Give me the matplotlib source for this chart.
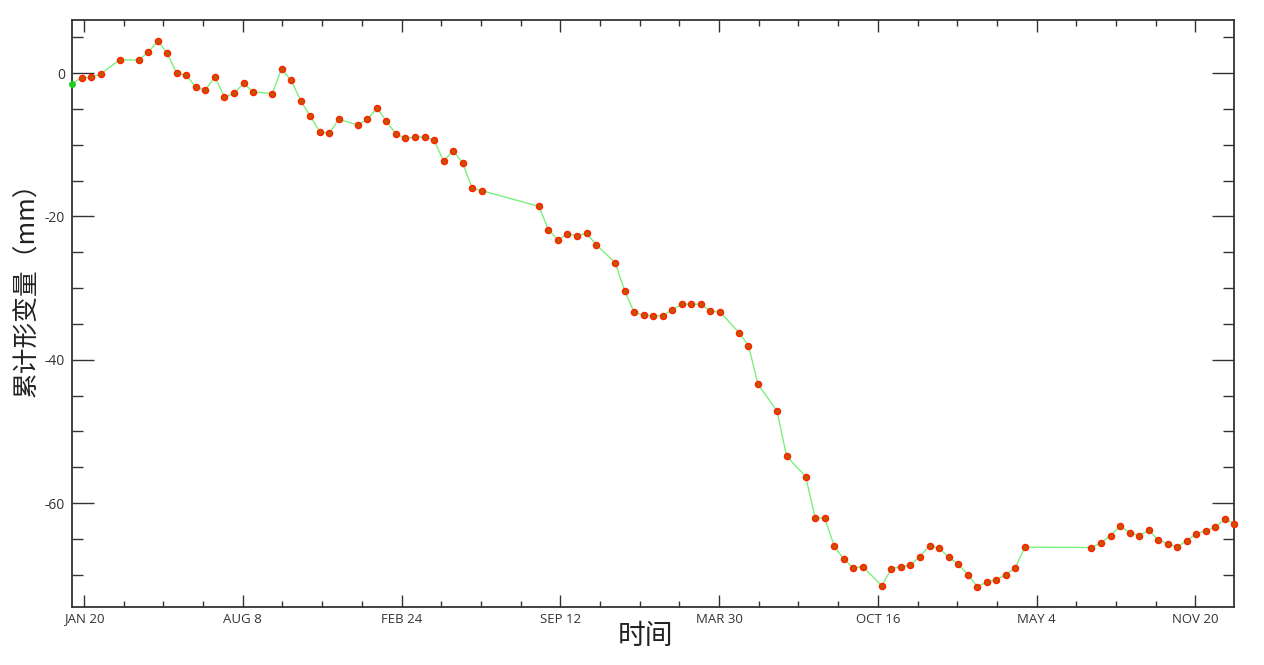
import matplotlib
matplotlib.use("Agg")
import matplotlib.pyplot as plt
import matplotlib.dates as mdates
from matplotlib.ticker import MultipleLocator, FixedLocator
import numpy as np

# 采集日期：相对 2018-01-20 的天数（Sentinel-1，12 天重访）
start_date = np.datetime64("2018-01-20")
days = [-15, -3, 9, 21, 45, 69, 81, 93, 105, 117, 129, 141, 153, 165, 177, 189,
        201, 213, 237, 249, 261, 273, 285, 297, 309, 321, 345, 357, 369, 381,
        393, 405, 417, 429, 441, 453, 465, 477, 489, 501, 573, 585, 597, 609,
        621, 633, 645, 669, 681, 693, 705, 717, 729, 741, 753, 765, 777, 789,
        801, 825, 837, 849, 873, 885, 909, 921, 933, 945, 957, 969, 981, 1005,
        1017, 1029, 1041, 1053, 1065, 1077, 1089, 1101, 1113, 1125, 1137, 1149,
        1161, 1173, 1185, 1269, 1281, 1293, 1305, 1317, 1329, 1341, 1353, 1365,
        1377, 1389, 1401, 1413, 1425, 1437, 1449]

# 累计形变量 (mm)
deform = [-1.5, -0.65, -0.6, -0.14, 1.86, 1.8, 2.9, 4.46, 2.74, -0.05, -0.28,
          -2.0, -2.37, -0.51, -3.39, -2.84, -1.44, -2.6, -2.88, 0.6, -1.02,
          -3.86, -6.0, -8.18, -8.41, -6.46, -7.25, -6.46, -4.88, -6.74, -8.51,
          -9.11, -8.93, -8.93, -9.34, -12.32, -10.83, -12.55, -16.08, -16.41,
          -18.6, -21.85, -23.29, -22.45, -22.69, -22.36, -23.94, -26.45, -30.36,
          -33.38, -33.79, -33.85, -33.85, -33.05, -32.22, -32.26, -32.26,
          -33.24, -33.29, -36.22, -38.03, -43.42, -47.18, -53.46, -56.3,
          -62.06, -62.1, -66.0, -67.83, -69.04, -68.86, -71.55, -69.13, -68.86,
          -68.66, -67.46, -65.93, -66.29, -67.55, -68.48, -69.97, -71.64,
          -71.03, -70.71, -69.97, -69.04, -66.15, -66.2, -65.55, -64.53,
          -63.22, -64.11, -64.57, -63.78, -65.13, -65.65, -66.15, -65.23,
          -64.3, -63.83, -63.36, -62.25, -62.86]

tick_dates = ["2018-01-20", "2018-08-08", "2019-02-24", "2019-09-12",
              "2020-03-30", "2020-10-16", "2021-05-04", "2021-11-20"]
tick_labels = ["JAN 20", "AUG 8", "FEB 24", "SEP 12", "MAR 30", "OCT 16",
               "MAY 4", "NOV 20"]
y_ticks = [0, -20, -40, -60]

cjk = ["Noto Sans CJK SC", "DejaVu Sans"]
tick_font = ["Open Sans", "DejaVu Sans"]

dates = start_date + np.array(days)

fig = plt.figure(figsize=(12.64, 6.65), dpi=100)
ax = fig.add_axes([72 / 1264, 1 - 607 / 665, (1234 - 72) / 1264, (607 - 20) / 665])

ax.plot(dates, deform, color="#7cf07c", lw=1.0, zorder=2)
ax.plot(dates[1:], deform[1:], "o", ms=4.3, mfc="#c05800", mec="#ff2200",
        mew=1.1, zorder=3, clip_on=False)
ax.plot(dates[:1], deform[:1], "o", ms=4.0, color="#22cc22", zorder=3,
        clip_on=False)

ax.set_xlim(start_date - np.timedelta64(15, "D"),
            start_date + np.timedelta64(1448, "D") + np.timedelta64(12, "h"))
ax.set_ylim(-74.5, 7.4)

major = [mdates.date2num(np.datetime64(d)) for d in tick_dates]
minor = [mdates.date2num(start_date + np.timedelta64(k, "D"))
         for k in range(-50, 1500, 50)]
ax.xaxis.set_major_locator(FixedLocator(major))
ax.xaxis.set_minor_locator(FixedLocator(minor))
ax.set_xticklabels(tick_labels, family=tick_font, fontsize=9.5, color="#333333")

ax.yaxis.set_major_locator(FixedLocator(y_ticks))
ax.yaxis.set_minor_locator(MultipleLocator(5))
ax.set_yticklabels([str(v) for v in y_ticks], family=tick_font, fontsize=10,
                   color="#333333")

for side in ax.spines.values():
    side.set_color("#333333")
    side.set_linewidth(1.3)

ax.tick_params(axis="x", which="major", direction="in", length=8.6, width=1.0,
               top=True, bottom=True, color="#333333", pad=4)
ax.tick_params(axis="x", which="minor", direction="in", length=4.3, width=1.0,
               top=True, bottom=True, color="#333333")
ax.tick_params(axis="y", which="major", direction="in", length=15.8, width=1.0,
               left=True, right=True, color="#333333", pad=5)
ax.tick_params(axis="y", which="minor", direction="in", length=7.9, width=1.0,
               left=True, right=True, color="#333333")

fig.text(645 / 1264, 1 - 636 / 665, "时间", family=cjk, fontsize=20,
         ha="center", va="center", color="#222222")
fig.text(27 / 1264, 1 - 283 / 665, "累计形变量（mm）", family=cjk, fontsize=18.5,
         rotation=90, ha="center", va="center", color="#222222")

fig.savefig("out.png", dpi=100, facecolor="white")
